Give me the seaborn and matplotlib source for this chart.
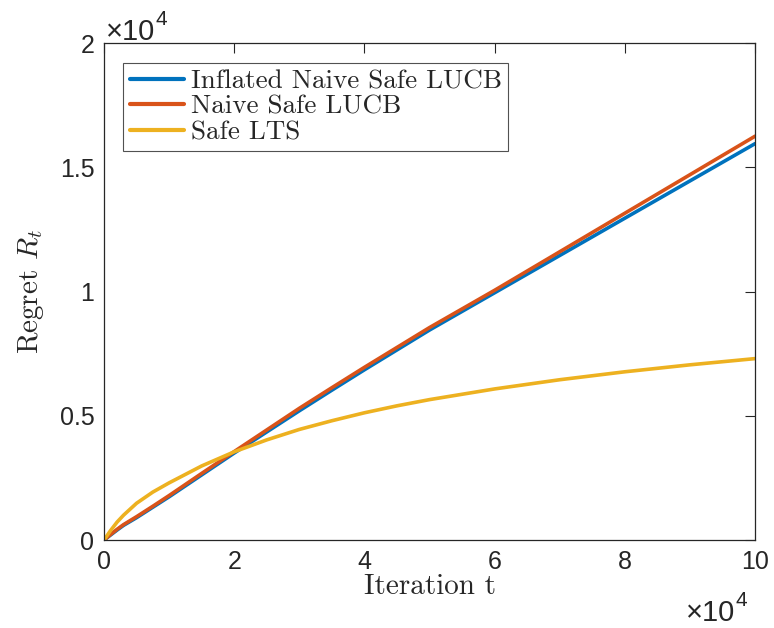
import numpy as np
import pandas as pd
import seaborn as sns
import matplotlib.pyplot as plt

# values
iterations = [0, 1000, 2000, 3000, 5000, 7500, 10000, 15000, 20000, 25000, 30000,
              35000, 40000, 45000, 50000, 60000, 70000, 80000, 90000, 100000]
inflated_lucb = [0, 200, 400, 590, 900, 1320, 1740, 2620, 3500, 4350, 5200,
                 6030, 6850, 7650, 8450, 9950, 11450, 12950, 14450, 15950]
naive_lucb = [0, 220, 430, 620, 940, 1360, 1790, 2680, 3560, 4430, 5300,
              6130, 6950, 7750, 8550, 10050, 11600, 13150, 14700, 16250]
safe_lts = [0, 380, 720, 1000, 1480, 1930, 2300, 2980, 3550, 4030, 4450,
            4800, 5120, 5400, 5650, 6080, 6450, 6770, 7050, 7300]
series_names = ["Inflated Naive Safe LUCB", "Naive Safe LUCB", "Safe LTS"]
colors = ["#0072BD", "#D95319", "#EDB120"]

df = pd.DataFrame({
    "t": iterations * 3,
    "regret": inflated_lucb + naive_lucb + safe_lts,
    "method": np.repeat(series_names, len(iterations)),
})

sns.set_style("white")
plt.rcParams["font.family"] = ["Liberation Sans", "DejaVu Sans"]
plt.rcParams["mathtext.fontset"] = "cm"

fig = plt.figure(figsize=(7.74, 6.28), dpi=100)
ax = fig.add_axes([0.1344, 0.1401, 0.8411, 0.7914])

sns.lineplot(data=df, x="t", y="regret", hue="method", hue_order=series_names,
             palette=colors, linewidth=2.6, ax=ax, sort=False)

ax.set_xlim(0, 100000)
ax.set_ylim(0, 20000)
ax.set_xticks(np.arange(0, 100001, 20000))
ax.set_xticklabels(["0", "2", "4", "6", "8", "10"])
ax.set_yticks(np.arange(0, 20001, 5000))
ax.set_yticklabels(["0", "0.5", "1", "1.5", "2"])
ax.tick_params(direction="in", top=True, right=True, length=7, width=0.8,
               labelsize=18, colors="#262626", pad=7)
for sp in ax.spines.values():
    sp.set_visible(True)
    sp.set_color("#262626")
    sp.set_linewidth(0.9)

ax.set_xlabel("Iteration t", family="cmr10", fontsize=21, labelpad=0)
ax.set_ylabel(r"Regret $R_t$", family="cmr10", fontsize=21, labelpad=10)

# MATLAB-style exponent labels (pixel positions from the figure's lower-left)
fig.text(106 / 774, 1 - 40 / 628, "×10", fontsize=21, color="#262626",
         va="baseline", ha="left")
fig.text(156 / 774, 1 - 25 / 628, "4", fontsize=15, color="#262626",
         va="baseline", ha="left")
fig.text(686 / 774, 1 - 621 / 628, "×10", fontsize=21, color="#262626",
         va="baseline", ha="left")
fig.text(736 / 774, 1 - 606 / 628, "4", fontsize=15, color="#262626",
         va="baseline", ha="left")

leg = ax.legend(loc="upper left", bbox_to_anchor=(0.029, 0.96),
                prop={"family": "cmr10", "size": 19.5}, frameon=True,
                fancybox=False, handlelength=2.0, handletextpad=0.25,
                borderpad=0.25, labelspacing=0.05, borderaxespad=0)
leg.get_frame().set_edgecolor("#262626")
leg.get_frame().set_linewidth(0.8)
for line in leg.get_lines():
    line.set_linewidth(3)

fig.savefig("out.png", dpi=100, facecolor="white")
